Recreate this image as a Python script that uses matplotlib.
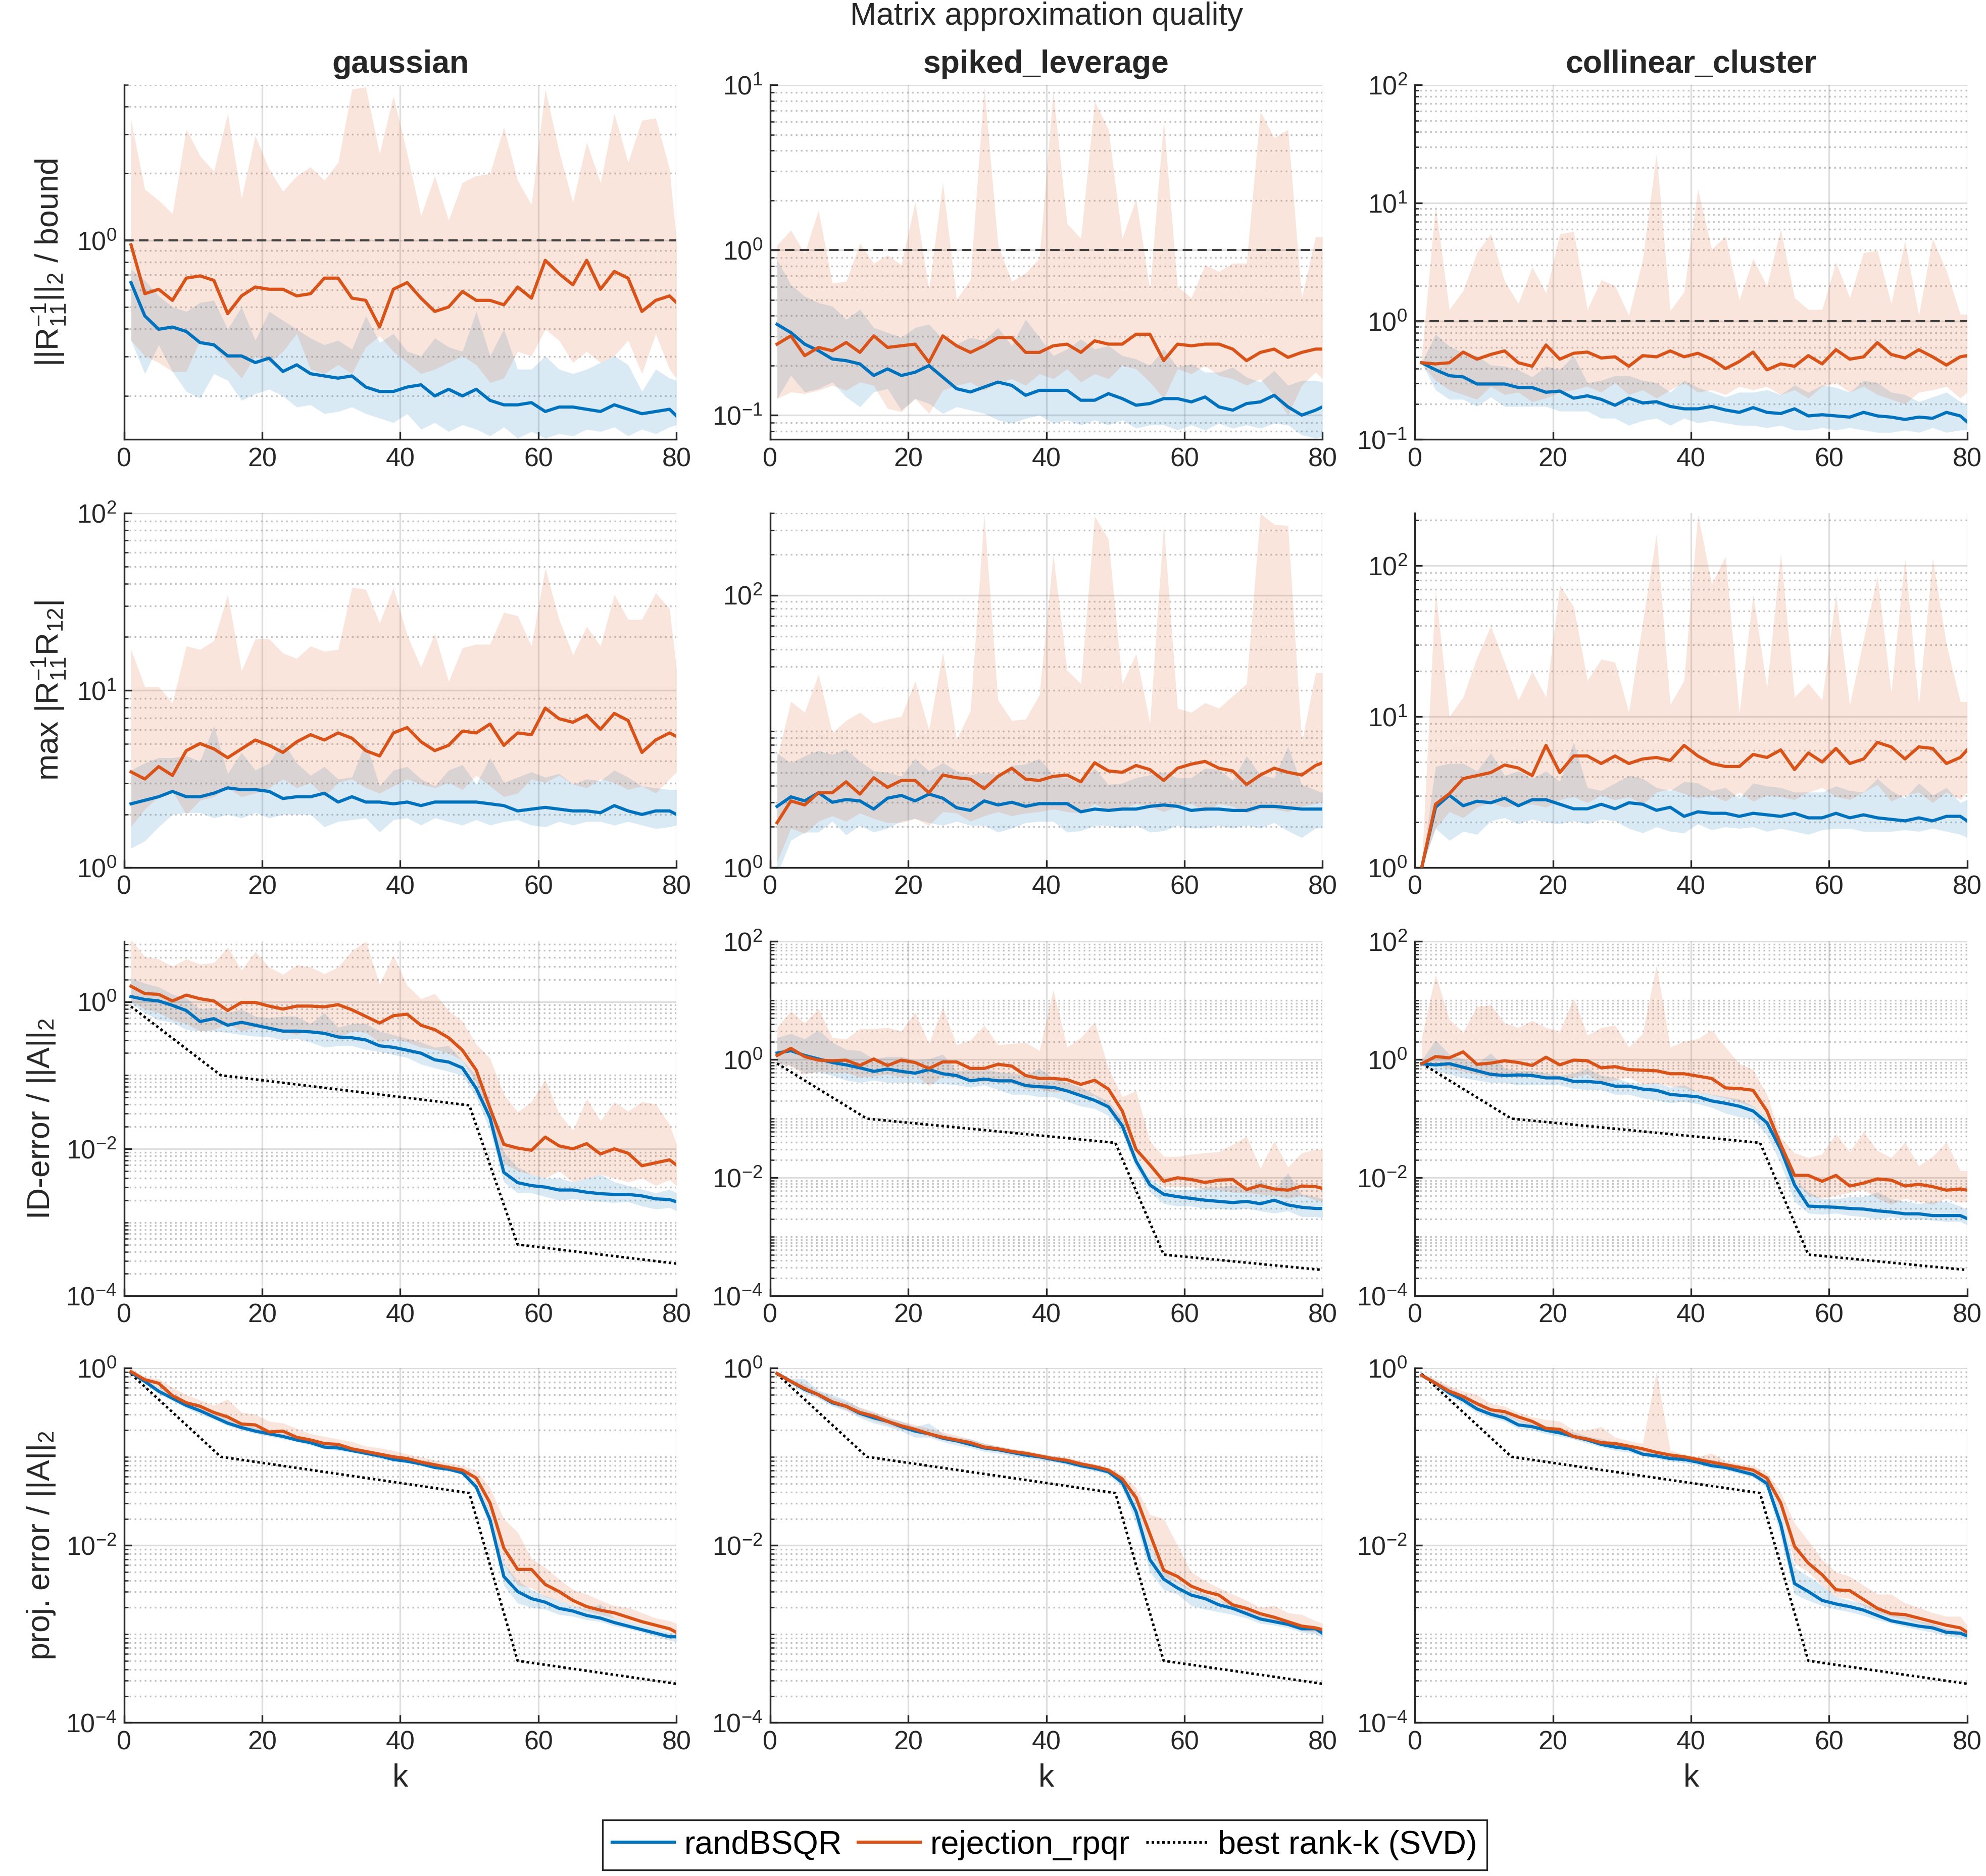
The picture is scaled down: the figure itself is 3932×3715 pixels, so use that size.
import numpy as np
import matplotlib
matplotlib.use("Agg")
import matplotlib.pyplot as plt
from matplotlib.lines import Line2D
from matplotlib.ticker import FixedLocator, LogLocator, NullFormatter, LogFormatterSciNotation

plt.rcParams['font.family'] = ['Liberation Sans', 'DejaVu Sans']
plt.rcParams['mathtext.fontset'] = 'custom'
plt.rcParams['mathtext.rm'] = 'Liberation Sans'
plt.rcParams['mathtext.it'] = 'Liberation Sans:italic'
plt.rcParams['mathtext.bf'] = 'Liberation Sans:bold'
plt.rcParams['mathtext.default'] = 'regular'
plt.rcParams['axes.unicode_minus'] = False

BLUE = '#0072BD'
ORANGE = '#D95319'

# sampled ranks (odd k plus the last one)
k = np.r_[np.arange(1, 80, 2), 80]

# all series below are log10 of the plotted value
# bq = randBSQR, rj = rejection_rpqr ; lo/hi = shaded band

# ---- row 1 : ||R11^-1||_2 / bound ----
gau_bound_rj = [-0.02,-0.24,-0.22,-0.27,-0.17,-0.16,-0.18,-0.33,-0.25,-0.21,-0.22,-0.22,-0.25,-0.24,-0.17,-0.17,-0.26,-0.27,-0.39,-0.22,-0.19,-0.26,-0.32,-0.30,-0.23,-0.27,-0.27,-0.29,-0.21,-0.26,-0.09,-0.15,-0.20,-0.09,-0.22,-0.14,-0.17,-0.32,-0.27,-0.25,-0.28]
gau_bound_rj_hi = [0.54,0.23,0.18,0.12,0.50,0.38,0.31,0.57,0.19,0.47,0.32,0.22,0.29,0.33,0.27,0.35,0.68,0.69,0.39,0.65,0.39,0.11,0.29,0.09,0.26,0.29,0.30,0.51,0.27,0.16,0.68,0.40,0.17,0.44,0.26,0.57,0.35,0.54,0.55,0.32,0.0]
gau_bound_rj_lo = [-0.45,-0.52,-0.55,-0.59,-0.59,-0.45,-0.48,-0.55,-0.62,-0.52,-0.55,-0.50,-0.42,-0.58,-0.60,-0.56,-0.60,-0.48,-0.43,-0.50,-0.55,-0.60,-0.58,-0.55,-0.52,-0.56,-0.64,-0.62,-0.50,-0.52,-0.40,-0.45,-0.55,-0.50,-0.55,-0.52,-0.45,-0.60,-0.42,-0.58,-0.62]
gau_bound_bq = [-0.19,-0.34,-0.40,-0.39,-0.41,-0.46,-0.47,-0.52,-0.52,-0.55,-0.53,-0.59,-0.56,-0.60,-0.61,-0.62,-0.61,-0.66,-0.68,-0.68,-0.66,-0.65,-0.70,-0.67,-0.70,-0.67,-0.72,-0.74,-0.74,-0.73,-0.77,-0.75,-0.75,-0.76,-0.77,-0.74,-0.76,-0.78,-0.77,-0.76,-0.79]
gau_bound_bq_hi = [-0.13,-0.18,-0.25,-0.30,-0.32,-0.28,-0.27,-0.40,-0.30,-0.45,-0.32,-0.36,-0.40,-0.44,-0.47,-0.45,-0.49,-0.34,-0.46,-0.42,-0.50,-0.52,-0.44,-0.48,-0.50,-0.32,-0.52,-0.40,-0.58,-0.58,-0.52,-0.58,-0.60,-0.58,-0.55,-0.52,-0.56,-0.68,-0.58,-0.62,-0.63]
gau_bound_bq_lo = [-0.45,-0.60,-0.47,-0.59,-0.68,-0.71,-0.60,-0.63,-0.72,-0.69,-0.67,-0.70,-0.75,-0.74,-0.78,-0.77,-0.75,-0.78,-0.80,-0.82,-0.78,-0.85,-0.82,-0.86,-0.83,-0.85,-0.88,-0.84,-0.89,-0.86,-0.89,-0.87,-0.88,-0.85,-0.86,-0.84,-0.88,-0.85,-0.87,-0.84,-0.83]

spk_bound_rj = [-0.57,-0.52,-0.64,-0.59,-0.61,-0.56,-0.62,-0.52,-0.59,-0.58,-0.57,-0.68,-0.52,-0.58,-0.62,-0.58,-0.53,-0.53,-0.62,-0.62,-0.58,-0.57,-0.62,-0.55,-0.57,-0.57,-0.51,-0.51,-0.67,-0.57,-0.58,-0.57,-0.57,-0.60,-0.67,-0.62,-0.60,-0.65,-0.62,-0.60,-0.60]
spk_bound_rj_hi = [0.03,0.12,-0.02,0.24,-0.20,-0.19,0.04,-0.08,-0.03,-0.09,0.29,-0.24,0.41,-0.30,-0.18,0.99,0.03,-0.19,-0.14,-0.05,0.96,0.16,0.07,0.90,0.73,0.07,0.31,-0.24,0.78,-0.22,-0.29,-0.09,-0.13,-0.08,-0.08,0.84,0.68,0.73,-0.29,0.08,0.08]
spk_bound_rj_lo = [-0.90,-0.86,-0.87,-0.85,-0.82,-0.85,-0.80,-0.82,-0.96,-0.98,-0.90,-0.99,-0.85,-0.82,-0.80,-0.85,-0.80,-0.78,-0.82,-0.75,-0.78,-0.72,-0.80,-0.75,-0.78,-0.70,-0.72,-0.80,-0.90,-0.72,-0.75,-0.70,-0.76,-0.78,-0.82,-0.78,-0.88,-1.00,-0.82,-0.74,-0.78]
spk_bound_bq = [-0.45,-0.50,-0.57,-0.61,-0.66,-0.67,-0.69,-0.76,-0.72,-0.76,-0.74,-0.70,-0.77,-0.84,-0.86,-0.83,-0.80,-0.82,-0.88,-0.85,-0.85,-0.85,-0.91,-0.91,-0.87,-0.90,-0.94,-0.93,-0.90,-0.90,-0.92,-0.89,-0.95,-0.97,-0.93,-0.92,-0.88,-0.95,-1.00,-0.97,-0.95]
spk_bound_bq_hi = [-0.06,-0.21,-0.28,-0.32,-0.34,-0.42,-0.36,-0.47,-0.50,-0.53,-0.47,-0.45,-0.54,-0.57,-0.53,-0.55,-0.47,-0.58,-0.42,-0.53,-0.64,-0.60,-0.54,-0.60,-0.58,-0.64,-0.66,-0.70,-0.60,-0.71,-0.69,-0.74,-0.74,-0.71,-0.77,-0.80,-0.73,-0.82,-0.79,-0.79,-0.80]
spk_bound_bq_lo = [-0.90,-0.76,-0.86,-0.84,-0.80,-0.89,-0.95,-0.86,-0.84,-0.97,-0.90,-0.93,-0.99,-0.95,-0.97,-0.99,-1.03,-1.05,-1.02,-1.00,-1.05,-1.03,-1.06,-1.03,-1.06,-1.03,-1.08,-1.06,-1.06,-1.09,-1.06,-1.09,-1.05,-1.08,-1.06,-1.08,-1.05,-1.06,-1.12,-1.14,-1.13]

col_bound_rj = [-0.35,-0.36,-0.35,-0.26,-0.32,-0.28,-0.25,-0.35,-0.38,-0.20,-0.32,-0.27,-0.26,-0.31,-0.30,-0.38,-0.29,-0.30,-0.25,-0.30,-0.27,-0.32,-0.40,-0.34,-0.26,-0.41,-0.36,-0.38,-0.29,-0.36,-0.24,-0.32,-0.30,-0.18,-0.28,-0.31,-0.24,-0.30,-0.37,-0.30,-0.29]
col_bound_rj_hi = [-0.30,0.98,0.10,0.26,0.58,0.74,0.34,0.15,0.46,0.24,0.74,0.76,0.10,0.35,0.30,0.05,0.52,1.42,0.09,0.25,1.12,0.61,0.72,0.18,0.53,0.30,0.78,0.20,0.10,0.10,0.50,0.20,0.58,0.60,0.15,0.68,0.05,0.70,0.43,0.06,0.06]
col_bound_rj_lo = [-0.36,-0.50,-0.58,-0.62,-0.66,-0.55,-0.62,-0.60,-0.68,-0.65,-0.60,-0.58,-0.55,-0.60,-0.52,-0.62,-0.58,-0.65,-0.58,-0.52,-0.60,-0.58,-0.62,-0.55,-0.58,-0.55,-0.62,-0.58,-0.65,-0.55,-0.52,-0.60,-0.55,-0.62,-0.66,-0.70,-0.60,-0.58,-0.55,-0.65,-0.60]
col_bound_bq = [-0.35,-0.41,-0.46,-0.47,-0.53,-0.53,-0.53,-0.56,-0.56,-0.60,-0.59,-0.65,-0.63,-0.66,-0.71,-0.65,-0.69,-0.68,-0.72,-0.74,-0.74,-0.72,-0.75,-0.77,-0.73,-0.77,-0.78,-0.74,-0.80,-0.79,-0.80,-0.81,-0.77,-0.80,-0.81,-0.83,-0.81,-0.82,-0.77,-0.80,-0.85]
col_bound_bq_hi = [-0.35,-0.11,-0.21,-0.27,-0.29,-0.37,-0.38,-0.41,-0.47,-0.38,-0.41,-0.29,-0.52,-0.50,-0.46,-0.46,-0.50,-0.52,-0.60,-0.50,-0.56,-0.60,-0.64,-0.60,-0.60,-0.58,-0.62,-0.54,-0.60,-0.54,-0.56,-0.60,-0.50,-0.52,-0.60,-0.62,-0.68,-0.64,-0.60,-0.68,-0.70]
col_bound_bq_lo = [-0.35,-0.58,-0.66,-0.66,-0.72,-0.64,-0.72,-0.72,-0.72,-0.72,-0.76,-0.76,-0.76,-0.82,-0.82,-0.88,-0.84,-0.82,-0.88,-0.82,-0.86,-0.84,-0.86,-0.88,-0.88,-0.90,-0.88,-0.92,-0.92,-0.90,-0.92,-0.90,-0.92,-0.94,-0.94,-0.92,-0.94,-0.90,-0.94,-0.92,-0.92]

# ---- row 2 : max |R11^-1 R12| ----
gau_growth_rj = [0.54,0.50,0.57,0.52,0.66,0.70,0.67,0.62,0.67,0.72,0.69,0.65,0.71,0.75,0.72,0.76,0.73,0.66,0.63,0.76,0.79,0.71,0.66,0.69,0.77,0.76,0.81,0.69,0.76,0.75,0.90,0.84,0.82,0.86,0.78,0.87,0.83,0.65,0.72,0.76,0.74]
gau_growth_rj_hi = [1.23,1.02,1.02,0.93,1.25,1.23,1.28,1.54,1.11,1.29,1.29,1.21,1.18,1.25,1.22,1.23,1.58,1.57,1.38,1.58,1.31,1.13,1.32,1.05,1.24,1.26,1.26,1.44,1.42,1.25,1.69,1.40,1.20,1.36,1.25,1.54,1.40,1.40,1.55,1.46,1.12]
gau_growth_rj_lo = [0.23,0.33,0.40,0.43,0.30,0.38,0.40,0.45,0.40,0.42,0.45,0.50,0.45,0.48,0.40,0.48,0.50,0.45,0.42,0.46,0.50,0.47,0.45,0.48,0.44,0.52,0.46,0.40,0.42,0.50,0.48,0.52,0.47,0.45,0.50,0.48,0.44,0.46,0.42,0.50,0.54]
gau_growth_bq = [0.36,0.38,0.40,0.43,0.40,0.40,0.42,0.45,0.44,0.44,0.43,0.39,0.40,0.40,0.42,0.37,0.40,0.37,0.37,0.36,0.37,0.35,0.37,0.37,0.37,0.37,0.36,0.35,0.32,0.33,0.34,0.33,0.32,0.32,0.31,0.35,0.32,0.30,0.32,0.32,0.30]
gau_growth_bq_hi = [0.55,0.59,0.62,0.62,0.63,0.60,0.80,0.53,0.65,0.55,0.59,0.71,0.59,0.52,0.57,0.50,0.51,0.71,0.46,0.55,0.57,0.50,0.46,0.55,0.58,0.47,0.62,0.48,0.51,0.54,0.51,0.53,0.47,0.50,0.49,0.55,0.51,0.46,0.45,0.44,0.44]
gau_growth_bq_lo = [0.11,0.15,0.23,0.30,0.31,0.31,0.28,0.30,0.28,0.31,0.28,0.30,0.30,0.30,0.23,0.26,0.27,0.28,0.20,0.27,0.28,0.24,0.28,0.26,0.24,0.27,0.24,0.26,0.27,0.24,0.23,0.26,0.24,0.26,0.26,0.24,0.26,0.24,0.22,0.23,0.24]

spk_growth_rj = [0.33,0.49,0.46,0.55,0.55,0.63,0.54,0.66,0.59,0.64,0.64,0.55,0.68,0.66,0.65,0.58,0.67,0.73,0.65,0.64,0.67,0.68,0.63,0.77,0.71,0.70,0.75,0.72,0.64,0.73,0.76,0.78,0.73,0.71,0.61,0.68,0.73,0.70,0.68,0.75,0.77]
spk_growth_rj_hi = [0.80,1.22,1.14,1.42,0.99,1.08,1.14,1.06,1.09,1.11,1.37,1.01,1.58,0.94,1.15,2.59,1.23,1.08,1.09,1.27,2.30,1.45,1.35,2.58,2.41,1.35,1.57,1.06,2.52,1.17,1.14,1.21,1.17,1.26,1.35,2.60,2.52,2.51,0.92,1.43,1.43]
spk_growth_rj_lo = [0.04,0.29,0.25,0.34,0.38,0.34,0.40,0.36,0.33,0.33,0.36,0.31,0.41,0.40,0.34,0.38,0.41,0.38,0.40,0.41,0.43,0.41,0.40,0.47,0.41,0.43,0.47,0.45,0.41,0.45,0.47,0.41,0.47,0.45,0.40,0.43,0.43,0.41,0.45,0.47,0.48]
spk_growth_bq = [0.45,0.52,0.49,0.55,0.48,0.50,0.49,0.43,0.51,0.53,0.49,0.54,0.51,0.44,0.42,0.49,0.46,0.48,0.45,0.47,0.47,0.47,0.41,0.43,0.42,0.43,0.43,0.45,0.46,0.45,0.42,0.43,0.43,0.42,0.42,0.45,0.45,0.44,0.43,0.43,0.43]
spk_growth_bq_hi = [0.84,0.77,0.82,0.86,0.83,0.87,0.78,0.71,0.70,0.67,0.80,0.71,0.77,0.71,0.68,0.70,0.68,0.75,0.76,0.80,0.68,0.66,0.62,0.73,0.61,0.62,0.66,0.68,0.70,0.66,0.66,0.73,0.72,0.64,0.82,0.68,0.66,0.89,0.61,0.57,0.55]
spk_growth_bq_lo = [-0.05,0.20,0.26,0.26,0.34,0.24,0.31,0.26,0.29,0.34,0.36,0.33,0.31,0.34,0.31,0.31,0.26,0.29,0.33,0.34,0.34,0.26,0.27,0.31,0.31,0.29,0.31,0.26,0.27,0.31,0.29,0.29,0.31,0.29,0.31,0.29,0.33,0.27,0.22,0.29,0.29]

col_growth_rj = [0.0,0.42,0.49,0.59,0.61,0.63,0.68,0.66,0.61,0.81,0.63,0.74,0.74,0.69,0.74,0.69,0.72,0.73,0.71,0.81,0.74,0.69,0.67,0.67,0.75,0.73,0.78,0.65,0.76,0.70,0.79,0.69,0.72,0.83,0.80,0.72,0.80,0.79,0.69,0.73,0.78]
col_growth_rj_hi = [0.0,1.84,1.00,1.13,1.39,1.60,1.36,1.11,1.30,1.13,1.87,1.73,1.24,1.38,1.36,1.03,1.62,2.21,1.08,1.24,2.34,1.88,2.06,1.02,1.81,1.19,2.08,1.13,1.22,1.11,1.81,1.08,1.51,1.93,1.16,2.05,1.08,2.05,1.48,1.10,1.10]
col_growth_rj_lo = [0.0,0.26,0.37,0.33,0.40,0.43,0.40,0.42,0.42,0.40,0.45,0.47,0.43,0.48,0.45,0.47,0.42,0.50,0.52,0.49,0.46,0.48,0.44,0.50,0.44,0.48,0.47,0.45,0.50,0.53,0.47,0.45,0.50,0.55,0.44,0.48,0.50,0.43,0.50,0.45,0.50]
col_growth_bq = [0.0,0.40,0.48,0.41,0.44,0.43,0.46,0.41,0.45,0.45,0.42,0.39,0.39,0.42,0.39,0.43,0.42,0.38,0.40,0.34,0.37,0.36,0.36,0.34,0.36,0.35,0.34,0.36,0.33,0.33,0.36,0.33,0.35,0.33,0.32,0.31,0.33,0.31,0.34,0.34,0.31]
col_growth_bq_hi = [0.0,0.67,0.69,0.69,0.64,0.76,0.61,0.64,0.59,0.64,0.57,0.83,0.53,0.51,0.56,0.61,0.59,0.53,0.51,0.57,0.56,0.51,0.53,0.46,0.56,0.54,0.53,0.50,0.50,0.50,0.54,0.51,0.50,0.59,0.51,0.46,0.56,0.48,0.53,0.43,0.45]
col_growth_bq_lo = [0.0,0.26,0.18,0.24,0.22,0.31,0.33,0.29,0.32,0.30,0.29,0.31,0.29,0.32,0.31,0.26,0.23,0.27,0.24,0.23,0.29,0.25,0.27,0.26,0.27,0.24,0.26,0.24,0.22,0.25,0.26,0.26,0.24,0.24,0.24,0.25,0.24,0.26,0.24,0.22,0.20]

# ---- row 3 : ID-error / ||A||_2 ----
gau_iderr_rj = [0.21,0.11,0.10,0.01,0.09,0.04,0.01,-0.12,-0.01,-0.01,-0.06,-0.10,-0.06,-0.06,-0.07,-0.04,-0.11,-0.20,-0.29,-0.19,-0.17,-0.32,-0.38,-0.49,-0.66,-0.93,-1.45,-1.94,-1.99,-2.02,-1.84,-1.96,-2.00,-1.93,-2.07,-2.00,-2.06,-2.23,-2.19,-2.15,-2.22]
gau_iderr_rj_hi = [0.84,0.61,0.58,0.48,0.58,0.51,0.53,0.74,0.43,0.68,0.47,0.37,0.50,0.47,0.38,0.47,0.69,0.82,0.24,0.63,0.22,0.04,0.11,-0.12,-0.27,-0.58,-0.77,-1.26,-1.50,-1.36,-1.06,-1.52,-1.75,-1.32,-1.62,-1.36,-1.49,-1.36,-1.39,-1.67,-1.94]
gau_iderr_rj_lo = [0.00,-0.10,-0.15,-0.25,-0.30,-0.40,-0.38,-0.30,-0.40,-0.35,-0.38,-0.40,-0.45,-0.38,-0.45,-0.50,-0.40,-0.42,-0.55,-0.50,-0.55,-0.62,-0.65,-0.70,-0.80,-1.10,-1.60,-2.20,-2.30,-2.35,-2.40,-2.30,-2.45,-2.40,-2.35,-2.40,-2.45,-2.40,-2.50,-2.42,-2.50]
gau_iderr_bq = [0.07,0.03,0.01,-0.05,-0.12,-0.27,-0.23,-0.32,-0.28,-0.32,-0.36,-0.40,-0.40,-0.41,-0.43,-0.48,-0.49,-0.52,-0.60,-0.62,-0.66,-0.70,-0.79,-0.82,-0.90,-1.18,-1.58,-2.32,-2.46,-2.50,-2.52,-2.56,-2.56,-2.59,-2.61,-2.62,-2.62,-2.64,-2.68,-2.69,-2.72]
gau_iderr_bq_hi = [0.32,0.25,0.20,0.10,0.05,-0.10,-0.08,-0.15,-0.10,-0.20,-0.22,-0.20,-0.20,-0.30,-0.15,-0.35,-0.30,-0.30,-0.40,-0.45,-0.50,-0.55,-0.62,-0.60,-0.80,-1.00,-1.35,-2.05,-2.25,-2.35,-2.40,-2.40,-2.45,-2.40,-2.35,-2.45,-2.50,-2.55,-2.60,-2.55,-2.60]
gau_iderr_bq_lo = [-0.02,-0.15,-0.25,-0.28,-0.38,-0.40,-0.40,-0.42,-0.45,-0.47,-0.48,-0.52,-0.50,-0.55,-0.62,-0.60,-0.60,-0.65,-0.68,-0.72,-0.76,-0.85,-0.90,-0.95,-1.00,-1.30,-1.75,-2.45,-2.60,-2.60,-2.65,-2.70,-2.68,-2.70,-2.72,-2.73,-2.72,-2.78,-2.82,-2.80,-2.84]

spk_iderr_rj = [0.07,0.19,0.05,-0.01,-0.02,-0.01,-0.10,0.01,-0.10,-0.01,-0.05,-0.15,-0.04,-0.04,-0.15,-0.15,-0.08,-0.11,-0.27,-0.32,-0.32,-0.34,-0.42,-0.35,-0.50,-0.87,-1.52,-1.78,-2.06,-2.00,-2.03,-2.08,-2.04,-2.03,-2.20,-2.13,-2.19,-2.21,-2.14,-2.15,-2.18]
spk_iderr_rj_hi = [0.54,0.82,0.62,0.86,0.37,0.35,0.52,0.52,0.54,0.48,0.80,0.27,0.88,0.25,0.33,0.58,0.25,0.27,0.29,0.15,1.18,0.21,0.37,0.64,-0.15,-0.63,-0.53,-1.38,-1.64,-1.64,-1.60,-1.58,-1.56,-1.44,-1.30,-1.84,-1.38,-1.82,-1.58,-1.52,-1.52]
spk_iderr_rj_lo = [-0.07,-0.12,-0.25,-0.20,-0.22,-0.22,-0.30,-0.28,-0.25,-0.30,-0.25,-0.45,-0.28,-0.32,-0.35,-0.38,-0.38,-0.40,-0.50,-0.50,-0.55,-0.55,-0.60,-0.62,-0.82,-1.05,-1.60,-1.98,-2.15,-2.15,-2.15,-2.20,-2.20,-2.25,-2.25,-2.28,-2.30,-2.35,-2.30,-2.38,-2.40]
spk_iderr_bq = [0.11,0.15,0.07,0.01,-0.05,-0.09,-0.14,-0.20,-0.16,-0.20,-0.23,-0.17,-0.24,-0.27,-0.36,-0.33,-0.36,-0.36,-0.44,-0.46,-0.47,-0.53,-0.61,-0.69,-0.80,-1.12,-1.72,-2.12,-2.28,-2.32,-2.35,-2.38,-2.40,-2.42,-2.40,-2.44,-2.38,-2.46,-2.50,-2.52,-2.52]
spk_iderr_bq_hi = [0.37,0.44,0.35,0.50,0.29,0.17,0.15,0.01,0.05,0.05,-0.01,0.01,0.09,-0.19,-0.17,-0.15,-0.21,-0.23,-0.27,-0.15,-0.31,-0.39,-0.47,-0.59,-0.71,-0.99,-1.60,-2.00,-2.18,-2.20,-2.20,-2.16,-2.16,-2.12,-2.20,-2.04,-2.20,-1.92,-2.28,-2.32,-2.36]
spk_iderr_bq_lo = [-0.07,-0.09,-0.23,-0.21,-0.27,-0.35,-0.39,-0.35,-0.39,-0.39,-0.39,-0.41,-0.41,-0.43,-0.47,-0.43,-0.51,-0.59,-0.59,-0.63,-0.63,-0.71,-0.79,-0.83,-0.95,-1.24,-1.84,-2.24,-2.44,-2.48,-2.48,-2.52,-2.52,-2.54,-2.52,-2.56,-2.60,-2.56,-2.66,-2.66,-2.68]

col_iderr_rj = [-0.07,0.05,0.03,0.13,-0.08,-0.06,-0.02,-0.05,-0.10,0.04,-0.09,-0.01,-0.02,-0.14,-0.12,-0.17,-0.18,-0.19,-0.24,-0.24,-0.28,-0.32,-0.48,-0.49,-0.52,-0.87,-1.44,-1.96,-1.96,-2.06,-1.96,-2.14,-2.09,-2.02,-2.04,-2.14,-2.11,-2.15,-2.21,-2.19,-2.21]
col_iderr_rj_hi = [0.37,1.44,0.68,0.46,0.90,0.92,0.62,0.54,0.66,0.54,0.48,1.04,0.41,0.54,0.58,0.21,0.44,1.60,0.21,0.31,0.35,0.50,0.21,-0.07,-0.17,-0.59,-1.32,-1.58,-1.66,-1.60,-1.26,-1.56,-1.22,-1.54,-1.66,-1.40,-1.80,-1.64,-1.40,-1.88,-1.88]
col_iderr_rj_lo = [-0.07,-0.10,-0.15,-0.20,-0.25,-0.30,-0.25,-0.30,-0.25,-0.28,-0.35,-0.30,-0.25,-0.40,-0.35,-0.30,-0.42,-0.40,-0.45,-0.48,-0.55,-0.60,-0.65,-0.72,-0.80,-1.00,-1.60,-2.05,-2.30,-2.35,-2.30,-2.25,-2.20,-2.35,-2.45,-2.35,-2.40,-2.45,-2.35,-2.42,-2.40]
col_iderr_bq = [-0.07,-0.09,-0.07,-0.13,-0.19,-0.25,-0.27,-0.26,-0.27,-0.31,-0.31,-0.37,-0.37,-0.39,-0.45,-0.45,-0.50,-0.52,-0.59,-0.61,-0.63,-0.70,-0.74,-0.79,-0.87,-1.07,-1.52,-2.12,-2.48,-2.49,-2.50,-2.52,-2.53,-2.56,-2.58,-2.61,-2.61,-2.64,-2.64,-2.64,-2.69]
col_iderr_bq_hi = [-0.01,0.33,0.09,0.01,-0.07,0.11,-0.15,-0.19,-0.19,-0.23,-0.27,-0.23,-0.15,-0.27,-0.31,-0.39,-0.41,-0.39,-0.47,-0.43,-0.55,-0.59,-0.63,-0.67,-0.79,-0.99,-1.44,-2.04,-2.24,-2.36,-2.36,-2.32,-2.32,-2.24,-2.36,-2.40,-2.44,-2.40,-2.40,-2.48,-2.54]
col_iderr_bq_lo = [-0.11,-0.19,-0.25,-0.31,-0.35,-0.39,-0.39,-0.43,-0.43,-0.43,-0.43,-0.49,-0.51,-0.51,-0.59,-0.59,-0.65,-0.69,-0.73,-0.71,-0.75,-0.81,-0.91,-0.97,-1.01,-1.28,-1.76,-2.40,-2.60,-2.62,-2.60,-2.64,-2.66,-2.70,-2.66,-2.70,-2.70,-2.72,-2.74,-2.74,-2.80]

# ---- row 4 : proj. error / ||A||_2 ----
gau_proj_rj = [-0.04,-0.13,-0.17,-0.31,-0.39,-0.43,-0.50,-0.55,-0.63,-0.64,-0.72,-0.71,-0.78,-0.81,-0.85,-0.86,-0.91,-0.94,-0.97,-1.00,-1.02,-1.06,-1.09,-1.12,-1.15,-1.24,-1.52,-2.03,-2.27,-2.27,-2.44,-2.52,-2.62,-2.69,-2.73,-2.76,-2.81,-2.86,-2.90,-2.94,-2.98]
gau_proj_rj_hi = [0.00,-0.10,-0.12,-0.22,-0.30,-0.36,-0.42,-0.35,-0.50,-0.52,-0.60,-0.62,-0.68,-0.74,-0.77,-0.80,-0.83,-0.88,-0.90,-0.93,-0.97,-1.00,-1.04,-1.07,-1.10,-1.15,-1.35,-1.70,-1.85,-2.15,-2.25,-2.38,-2.50,-2.55,-2.62,-2.68,-2.70,-2.76,-2.82,-2.85,-2.88]
gau_proj_rj_lo = [-0.06,-0.15,-0.22,-0.34,-0.42,-0.48,-0.54,-0.60,-0.66,-0.69,-0.74,-0.76,-0.80,-0.83,-0.87,-0.89,-0.93,-0.96,-0.99,-1.02,-1.04,-1.08,-1.11,-1.14,-1.17,-1.30,-1.62,-2.20,-2.45,-2.48,-2.58,-2.62,-2.68,-2.74,-2.78,-2.82,-2.86,-2.90,-2.94,-2.97,-3.00]
gau_proj_bq = [-0.05,-0.15,-0.26,-0.34,-0.42,-0.48,-0.55,-0.62,-0.67,-0.71,-0.74,-0.77,-0.81,-0.84,-0.89,-0.90,-0.93,-0.96,-0.99,-1.03,-1.05,-1.08,-1.12,-1.14,-1.18,-1.34,-1.71,-2.35,-2.52,-2.60,-2.64,-2.71,-2.74,-2.79,-2.82,-2.87,-2.91,-2.95,-2.99,-3.03,-3.03]
gau_proj_bq_hi = [-0.03,-0.12,-0.22,-0.30,-0.38,-0.44,-0.50,-0.56,-0.62,-0.67,-0.71,-0.74,-0.78,-0.81,-0.84,-0.87,-0.90,-0.93,-0.97,-1.00,-1.02,-1.06,-1.09,-1.12,-1.15,-1.30,-1.60,-2.20,-2.40,-2.50,-2.57,-2.62,-2.68,-2.72,-2.66,-2.82,-2.86,-2.90,-2.94,-2.98,-2.98]
gau_proj_bq_lo = [-0.07,-0.17,-0.29,-0.37,-0.45,-0.52,-0.58,-0.65,-0.70,-0.74,-0.77,-0.80,-0.83,-0.87,-0.91,-0.93,-0.95,-0.98,-1.02,-1.05,-1.07,-1.10,-1.14,-1.16,-1.20,-1.38,-1.80,-2.45,-2.65,-2.70,-2.72,-2.78,-2.80,-2.84,-2.86,-2.91,-2.94,-2.98,-3.03,-3.07,-3.09]

spk_proj_rj = [-0.06,-0.15,-0.23,-0.30,-0.38,-0.43,-0.50,-0.54,-0.60,-0.65,-0.69,-0.74,-0.78,-0.81,-0.84,-0.89,-0.91,-0.94,-0.96,-0.99,-1.02,-1.04,-1.08,-1.11,-1.15,-1.25,-1.46,-1.87,-2.28,-2.35,-2.46,-2.52,-2.56,-2.67,-2.71,-2.77,-2.81,-2.86,-2.91,-2.93,-2.95]
spk_proj_rj_hi = [-0.04,-0.12,-0.18,-0.26,-0.33,-0.38,-0.44,-0.49,-0.55,-0.60,-0.64,-0.68,-0.72,-0.76,-0.80,-0.85,-0.88,-0.91,-0.93,-0.96,-0.99,-1.00,-1.05,-1.08,-1.12,-1.20,-1.35,-1.65,-1.70,-2.00,-2.30,-2.40,-2.48,-2.55,-2.62,-2.70,-2.68,-2.76,-2.78,-2.85,-2.88]
spk_proj_rj_lo = [-0.08,-0.17,-0.26,-0.33,-0.41,-0.47,-0.54,-0.59,-0.64,-0.69,-0.73,-0.77,-0.81,-0.84,-0.88,-0.92,-0.94,-0.97,-0.99,-1.02,-1.05,-1.07,-1.11,-1.14,-1.18,-1.28,-1.52,-2.00,-2.35,-2.42,-2.52,-2.58,-2.62,-2.72,-2.76,-2.82,-2.86,-2.91,-2.96,-2.98,-3.00]
spk_proj_bq = [-0.06,-0.15,-0.24,-0.30,-0.39,-0.43,-0.51,-0.56,-0.60,-0.66,-0.71,-0.74,-0.79,-0.82,-0.86,-0.90,-0.92,-0.95,-0.98,-1.00,-1.03,-1.06,-1.10,-1.13,-1.17,-1.29,-1.62,-2.16,-2.38,-2.48,-2.56,-2.60,-2.67,-2.71,-2.77,-2.83,-2.86,-2.89,-2.94,-2.94,-2.99]
spk_proj_bq_hi = [-0.04,-0.12,-0.12,-0.25,-0.30,-0.36,-0.45,-0.50,-0.56,-0.60,-0.66,-0.62,-0.74,-0.78,-0.80,-0.85,-0.88,-0.91,-0.94,-0.97,-0.99,-1.02,-1.06,-1.09,-1.13,-1.22,-1.50,-2.00,-2.28,-2.40,-2.50,-2.55,-2.62,-2.66,-2.72,-2.78,-2.80,-2.84,-2.90,-2.92,-2.95]
spk_proj_bq_lo = [-0.08,-0.18,-0.28,-0.34,-0.43,-0.48,-0.56,-0.62,-0.66,-0.71,-0.78,-0.78,-0.83,-0.87,-0.90,-0.94,-0.96,-0.99,-1.01,-1.04,-1.06,-1.09,-1.13,-1.16,-1.20,-1.35,-1.75,-2.30,-2.50,-2.55,-2.68,-2.72,-2.75,-2.78,-2.82,-2.88,-2.90,-2.93,-2.98,-3.00,-3.04]

col_proj_rj = [-0.08,-0.17,-0.26,-0.32,-0.40,-0.47,-0.49,-0.55,-0.60,-0.68,-0.69,-0.77,-0.80,-0.84,-0.85,-0.88,-0.91,-0.95,-0.98,-1.00,-1.03,-1.06,-1.09,-1.12,-1.15,-1.24,-1.52,-2.01,-2.20,-2.33,-2.50,-2.51,-2.61,-2.71,-2.77,-2.78,-2.82,-2.86,-2.90,-2.93,-2.98]
col_proj_rj_hi = [-0.06,-0.12,-0.20,-0.26,-0.30,-0.40,-0.43,-0.50,-0.55,-0.58,-0.60,-0.70,-0.70,-0.66,-0.78,-0.82,-0.85,-0.04,-0.93,-0.97,-1.00,-0.96,-1.05,-1.08,-1.10,-1.18,-1.40,-1.75,-1.95,-2.16,-2.30,-2.35,-2.45,-2.55,-2.55,-2.65,-2.70,-2.76,-2.80,-2.80,-2.90]
col_proj_rj_lo = [-0.10,-0.20,-0.30,-0.36,-0.44,-0.51,-0.54,-0.60,-0.65,-0.72,-0.73,-0.80,-0.83,-0.87,-0.88,-0.91,-0.95,-0.98,-1.01,-1.03,-1.06,-1.09,-1.12,-1.15,-1.18,-1.28,-1.60,-2.20,-2.30,-2.45,-2.58,-2.60,-2.68,-2.76,-2.80,-2.83,-2.87,-2.92,-2.96,-2.98,-3.02]
col_proj_bq = [-0.08,-0.17,-0.28,-0.36,-0.46,-0.52,-0.56,-0.64,-0.66,-0.70,-0.73,-0.77,-0.81,-0.86,-0.89,-0.91,-0.97,-0.99,-1.02,-1.03,-1.06,-1.10,-1.12,-1.16,-1.20,-1.30,-1.76,-2.43,-2.52,-2.62,-2.66,-2.69,-2.73,-2.79,-2.85,-2.88,-2.91,-2.93,-2.98,-2.99,-3.02]
col_proj_bq_hi = [-0.06,-0.14,-0.22,-0.30,-0.40,-0.45,-0.50,-0.58,-0.62,-0.65,-0.68,-0.72,-0.77,-0.80,-0.84,-0.88,-0.92,-0.95,-0.98,-1.01,-1.03,-1.07,-1.09,-1.12,-1.15,-1.25,-1.60,-2.25,-2.35,-2.45,-2.58,-2.62,-2.66,-2.72,-2.78,-2.80,-2.85,-2.88,-2.94,-2.96,-2.99]
col_proj_bq_lo = [-0.10,-0.20,-0.32,-0.40,-0.50,-0.56,-0.60,-0.68,-0.70,-0.74,-0.77,-0.80,-0.85,-0.89,-0.93,-0.95,-0.99,-1.02,-1.05,-1.07,-1.09,-1.13,-1.15,-1.19,-1.23,-1.35,-1.90,-2.55,-2.62,-2.68,-2.72,-2.75,-2.79,-2.84,-2.88,-2.92,-2.95,-2.98,-3.02,-3.04,-3.06]

# best rank-k (SVD) error, same in every error panel
svd_k = [1, 14, 50, 57, 80]
svd_err = [0.86, 0.10, 0.039, 5.0e-4, 2.75e-4]

datasets = ['gaussian', 'spiked_leverage', 'collinear_cluster']
ylabels = [r'$||R^{-1}_{11}||_2$ / bound',
           r'max $|R^{-1}_{11}R_{12}|$',
           r'ID-error / $||A||_2$',
           r'proj. error / $||A||_2$']

panels = {
    (0, 0): (gau_bound_bq, gau_bound_bq_lo, gau_bound_bq_hi, gau_bound_rj, gau_bound_rj_lo, gau_bound_rj_hi),
    (0, 1): (spk_bound_bq, spk_bound_bq_lo, spk_bound_bq_hi, spk_bound_rj, spk_bound_rj_lo, spk_bound_rj_hi),
    (0, 2): (col_bound_bq, col_bound_bq_lo, col_bound_bq_hi, col_bound_rj, col_bound_rj_lo, col_bound_rj_hi),
    (1, 0): (gau_growth_bq, gau_growth_bq_lo, gau_growth_bq_hi, gau_growth_rj, gau_growth_rj_lo, gau_growth_rj_hi),
    (1, 1): (spk_growth_bq, spk_growth_bq_lo, spk_growth_bq_hi, spk_growth_rj, spk_growth_rj_lo, spk_growth_rj_hi),
    (1, 2): (col_growth_bq, col_growth_bq_lo, col_growth_bq_hi, col_growth_rj, col_growth_rj_lo, col_growth_rj_hi),
    (2, 0): (gau_iderr_bq, gau_iderr_bq_lo, gau_iderr_bq_hi, gau_iderr_rj, gau_iderr_rj_lo, gau_iderr_rj_hi),
    (2, 1): (spk_iderr_bq, spk_iderr_bq_lo, spk_iderr_bq_hi, spk_iderr_rj, spk_iderr_rj_lo, spk_iderr_rj_hi),
    (2, 2): (col_iderr_bq, col_iderr_bq_lo, col_iderr_bq_hi, col_iderr_rj, col_iderr_rj_lo, col_iderr_rj_hi),
    (3, 0): (gau_proj_bq, gau_proj_bq_lo, gau_proj_bq_hi, gau_proj_rj, gau_proj_rj_lo, gau_proj_rj_hi),
    (3, 1): (spk_proj_bq, spk_proj_bq_lo, spk_proj_bq_hi, spk_proj_rj, spk_proj_rj_lo, spk_proj_rj_hi),
    (3, 2): (col_proj_bq, col_proj_bq_lo, col_proj_bq_hi, col_proj_rj, col_proj_rj_lo, col_proj_rj_hi),
}

ylims = {
    (0, 0): (0.127, 5.0), (0, 1): (10**-1.148, 10), (0, 2): (0.1, 100),
    (1, 0): (1, 100), (1, 1): (1, 10**2.603), (1, 2): (1, 10**2.349),
    (2, 0): (1e-4, 10**0.82), (2, 1): (1e-4, 100), (2, 2): (1e-4, 100),
    (3, 0): (1e-4, 1), (3, 1): (1e-4, 1), (3, 2): (1e-4, 1),
}
yticks = {
    (0, 0): [1], (0, 1): [0.1, 1, 10], (0, 2): [0.1, 1, 10, 100],
    (1, 0): [1, 10, 100], (1, 1): [1, 100], (1, 2): [1, 10, 100],
    (2, 0): [1e-4, 1e-2, 1], (2, 1): [1e-4, 1e-2, 1, 1e2], (2, 2): [1e-4, 1e-2, 1, 1e2],
    (3, 0): [1e-4, 1e-2, 1], (3, 1): [1e-4, 1e-2, 1], (3, 2): [1e-4, 1e-2, 1],
}

lefts = [0.0625, 0.3878, 0.7124]
bottoms = [0.7657, 0.5375, 0.3092, 0.0817]
w, h = 0.2781, 0.189

fig = plt.figure(figsize=(3932 / 300, 3715 / 300), dpi=300)

for (r, c), (bq, bq_lo, bq_hi, rj, rj_lo, rj_hi) in panels.items():
    ax = fig.add_axes([lefts[c], bottoms[r], w, h])
    ax.set_yscale('log')
    ax.set_axisbelow(True)

    ax.fill_between(k, 10 ** np.array(bq_lo), 10 ** np.array(bq_hi), color=BLUE, alpha=0.15, lw=0)
    ax.fill_between(k, 10 ** np.array(rj_lo), 10 ** np.array(rj_hi), color=ORANGE, alpha=0.15, lw=0)
    ax.plot(k, 10 ** np.array(bq), color=BLUE, lw=1.5, zorder=3)
    ax.plot(k, 10 ** np.array(rj), color=ORANGE, lw=1.5, zorder=3)
    if r == 0:
        ax.axhline(1, color='0.25', lw=1.0, dashes=(4.5, 2.5), zorder=2.5)
    if r >= 2:
        ax.plot(svd_k, svd_err, color='k', lw=1.2, dashes=(1, 1.1), zorder=2.8)

    ax.set_xlim(0, 80)
    ax.set_ylim(*ylims[(r, c)])
    ax.set_xticks([0, 20, 40, 60, 80])
    ax.yaxis.set_major_locator(FixedLocator(yticks[(r, c)]))
    ax.yaxis.set_major_formatter(LogFormatterSciNotation())
    ax.yaxis.set_minor_locator(LogLocator(base=10, subs=np.arange(1, 10), numticks=100))
    ax.yaxis.set_minor_formatter(NullFormatter())

    ax.grid(which='major', color='0.15', alpha=0.15, lw=0.8)
    ax.grid(which='minor', axis='y', color='0.15', alpha=0.28, lw=0.8, ls=(0, (1, 2)))

    for s in ['top', 'right']:
        ax.spines[s].set_visible(False)
    for s in ['left', 'bottom']:
        ax.spines[s].set_color('0.15')
        ax.spines[s].set_linewidth(0.8)
    ax.tick_params(which='both', direction='in', colors='0.15', labelcolor='0.15',
                   labelsize=12.5, top=False, right=False)
    ax.tick_params(which='major', length=3.5, width=0.8)
    ax.tick_params(which='minor', length=2, width=0.6)

    if c == 0:
        ax.set_ylabel(ylabels[r], fontsize=15, color='0.15')
    if r == 3:
        ax.set_xlabel('k', fontsize=15, color='0.15')
    if r == 0:
        fig.text(lefts[c] + w / 2, 0.9656, datasets[c], ha='center', va='center',
                 fontsize=15, fontweight='bold', color='0.15')

fig.text(0.527, 0.9912, 'Matrix approximation quality', ha='center', va='center',
         fontsize=15, color='0.15')

handles = [Line2D([], [], color=BLUE, lw=1.5),
           Line2D([], [], color=ORANGE, lw=1.5),
           Line2D([], [], color='k', lw=1.2, dashes=(1, 1.1))]
leg = fig.legend(handles, ['randBSQR', 'rejection_rpqr', 'best rank-k (SVD)'],
                 loc='center', bbox_to_anchor=(0.526, 0.0165), ncol=3, fontsize=15.5,
                 frameon=True, fancybox=False, framealpha=1, edgecolor='0.15',
                 handlelength=1.9, handletextpad=0.3, columnspacing=0.5, borderpad=0.3)
leg.get_frame().set_linewidth(0.8)

fig.savefig('out.png', dpi=300)
